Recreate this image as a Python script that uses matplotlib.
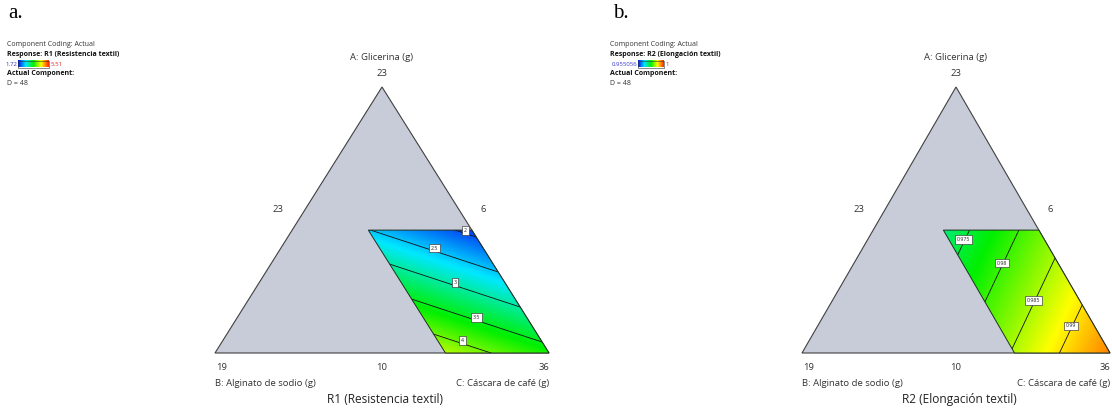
import numpy as np
import matplotlib
matplotlib.use("Agg")
import matplotlib.pyplot as plt
from matplotlib.colors import LinearSegmentedColormap, Normalize
from matplotlib.patches import Polygon

# ---------------- data ----------------
component_names = ["A: Glicerina (g)", "B: Alginato de sodio (g)", "C: Cáscara de café (g)"]
apex_label = "23"
left_side_label = "23"
right_side_label = "6"
bottom_labels = ["19", "10", "36"]
header_lines = ["Component Coding: Actual", "Actual Component:", "D = 48"]
panel_letters = ["a.", "b."]

# feasible region (pseudo-component fractions)
a_max_frac = 0.462
b_max_frac = 0.31

r1_title = "R1 (Resistencia textil)"
r1_response = "Response: R1 (Resistencia textil)"
r1_coefs = [-0.143, 5.633, 3.657]          # linear mixture model (A, B, C)
r1_range = [1.72, 5.51]
r1_range_labels = ["1.72", "5.51"]
r1_levels = [2.0, 2.5, 3.0, 3.5, 4.0]
r1_level_labels = ["2", "2.5", "3", "3.5", "4"]

r2_title = "R2 (Elongación textil)"
r2_response = "Response: R2 (Elongación textil)"
r2_coefs = [0.96678, 0.96395, 0.99511]
r2_range = [0.955056, 1.0]
r2_range_labels = ["0.955056", "1"]
r2_levels = [0.975, 0.98, 0.985, 0.99]
r2_level_labels = ["0.975", "0.98", "0.985", "0.99"]

# ---------------- layout (pixels) ----------------
W, H = 1112, 408
panels = [
    dict(apex=(382, 87), left=(215, 353), right=(549, 353), hx=7, letter_x=8,
         title=r1_title, resp=r1_response, coefs=r1_coefs, rng=r1_range,
         rng_lbl=r1_range_labels, levels=r1_levels, lvl_lbl=r1_level_labels,
         bar=(18, 48.5)),
    dict(apex=(956, 87), left=(802, 353), right=(1110, 353), hx=610.5, letter_x=613,
         title=r2_title, resp=r2_response, coefs=r2_coefs, rng=r2_range,
         rng_lbl=r2_range_labels, levels=r2_levels, lvl_lbl=r2_level_labels,
         bar=(638, 663.5)),
]

cmap = LinearSegmentedColormap.from_list(
    "de", ["#0010f0", "#00e8ff", "#00f000", "#ffff00", "#ff2000"])

plt.rcParams["font.family"] = ["Open Sans", "DejaVu Sans"]
fig = plt.figure(figsize=(W / 100, H / 100), dpi=100)
ax = fig.add_axes([0, 0, 1, 1])
ax.set_xlim(0, W)
ax.set_ylim(H, 0)
ax.axis("off")

sm = 5.0
lab = 6.8
tri_gray = "#c8ccd8"
txt_col = "#333333"

def to_px(P, a, b, c):
    A, B, C = np.array(P["apex"]), np.array(P["left"]), np.array(P["right"])
    return a * A[0] + b * B[0] + c * C[0], a * A[1] + b * B[1] + c * C[1]

for P in panels:
    A, B, C = np.array(P["apex"], float), np.array(P["left"], float), np.array(P["right"], float)
    tri = Polygon([A, B, C], closed=True, facecolor=tri_gray, edgecolor="#404040", lw=0.8, zorder=1)
    ax.add_patch(tri)

    corners = [(a_max_frac, 0.0), (a_max_frac, b_max_frac), (0.0, b_max_frac), (0.0, 0.0)]
    reg = [to_px(P, a, b, 1 - a - b) for a, b in corners]
    region = Polygon(reg, closed=True, facecolor="none", edgecolor="#1f2f1f", lw=0.7, zorder=5)

    xs = np.arange(B[0] - 2, C[0] + 2, 0.5)
    ys = np.arange(A[1] - 2, B[1] + 2, 0.5)
    X, Y = np.meshgrid(xs, ys)
    M = np.array([[A[0] - C[0], B[0] - C[0]], [A[1] - C[1], B[1] - C[1]]])
    Minv = np.linalg.inv(M)
    dx, dy = X - C[0], Y - C[1]
    fa = Minv[0, 0] * dx + Minv[0, 1] * dy
    fb = Minv[1, 0] * dx + Minv[1, 1] * dy
    fc = 1 - fa - fb
    bA, bB, bC = P["coefs"]
    Z = bA * fa + bB * fb + bC * fc
    norm = Normalize(P["rng"][0], P["rng"][1])

    im = ax.imshow(Z, extent=(xs[0], xs[-1], ys[-1], ys[0]), origin="upper",
                   cmap=cmap, norm=norm, aspect="auto", interpolation="bilinear", zorder=2)
    im.set_clip_path(Polygon(reg, closed=True, transform=ax.transData))

    cs = ax.contour(X, Y, Z, levels=P["levels"], colors="#111111", linewidths=0.6, zorder=3)
    cs.set_clip_path(Polygon(reg, closed=True, transform=ax.transData))
    ax.add_patch(region)

    eps = 1e-3
    for lev_segs, lbl in zip(cs.allsegs, P["lvl_lbl"]):
        pts = []
        for seg in lev_segs:
            sa = Minv[0, 0] * (seg[:, 0] - C[0]) + Minv[0, 1] * (seg[:, 1] - C[1])
            sb = Minv[1, 0] * (seg[:, 0] - C[0]) + Minv[1, 1] * (seg[:, 1] - C[1])
            ok = ((sa <= a_max_frac + eps) & (sb <= b_max_frac + eps) & (sa >= -eps)
                  & (sb >= -eps) & (1 - sa - sb >= -eps))
            pts.append(seg[ok])
        pts = np.vstack(pts) if pts else np.empty((0, 2))
        if len(pts) < 2:
            continue
        d = np.r_[0, np.cumsum(np.hypot(np.diff(pts[:, 0]), np.diff(pts[:, 1])))]
        mid = d[-1] / 2
        i = np.searchsorted(d, mid)
        i = min(max(i, 1), len(pts) - 1)
        t = (mid - d[i - 1]) / max(d[i] - d[i - 1], 1e-9)
        px = pts[i - 1] + t * (pts[i] - pts[i - 1])
        ax.text(px[0], px[1] - 3, lbl, fontsize=3.8, ha="center", va="center", zorder=6,
                color="#222222",
                bbox=dict(boxstyle="square,pad=0.35", fc="white", ec="#333333", lw=0.45))

    cx = A[0]
    ax.text(cx, 57.5, component_names[0], fontsize=lab, ha="center", va="center", color=txt_col)
    ax.text(cx, 73, apex_label, fontsize=lab, ha="center", va="center", color=txt_col)
    ax.text(B[0] + (A[0] - B[0]) * 0.42 - 2, 210, left_side_label, fontsize=lab, ha="right", va="center", color=txt_col)
    ax.text(C[0] - (C[0] - A[0]) * 0.42 + 2, 210, right_side_label, fontsize=lab, ha="left", va="center", color=txt_col)
    ax.text(B[0] + 1, 367, bottom_labels[0], fontsize=lab, ha="left", va="center", color=txt_col)
    ax.text(cx, 367, bottom_labels[1], fontsize=lab, ha="center", va="center", color=txt_col)
    ax.text(C[0], 367, bottom_labels[2], fontsize=lab, ha="right", va="center", color=txt_col)
    ax.text(B[0], 383, component_names[1], fontsize=lab, ha="left", va="center", color=txt_col)
    ax.text(C[0], 383, component_names[2], fontsize=lab, ha="right", va="center", color=txt_col)
    ax.text(cx + 3, 399.5, P["title"], fontsize=8.6, ha="center", va="center", color="#222222")

    hx = P["hx"]
    ax.text(hx, 45, header_lines[0], fontsize=sm, ha="left", va="center", color=txt_col)
    ax.text(hx, 55, P["resp"], fontsize=sm, ha="left", va="center", color="#111111", fontweight="bold")
    ax.text(P["bar"][0] - 1, 64, P["rng_lbl"][0], fontsize=4.3, ha="right", va="center", color="#3333cc")
    ax.text(P["bar"][1] + 2, 64, P["rng_lbl"][1], fontsize=4.3, ha="left", va="center", color="#dd2222")
    grad = np.linspace(0, 1, 256)[None, :]
    ax.imshow(grad, extent=(P["bar"][0], P["bar"][1], 67.5, 60.5), cmap=cmap, aspect="auto", zorder=2)
    ax.add_patch(Polygon([(P["bar"][0], 60.5), (P["bar"][1], 60.5), (P["bar"][1], 67.5), (P["bar"][0], 67.5)],
                         closed=True, fc="none", ec="#333333", lw=0.4, zorder=3))
    ax.text(hx, 73.5, header_lines[1], fontsize=sm, ha="left", va="center", color="#111111", fontweight="bold")
    ax.text(hx, 83.5, header_lines[2], fontsize=sm, ha="left", va="center", color=txt_col)

for P, letter in zip(panels, panel_letters):
    ax.text(P["letter_x"], 14, letter, fontsize=15, family="Liberation Serif", ha="left", va="center")

fig.savefig("out.png", dpi=100)
